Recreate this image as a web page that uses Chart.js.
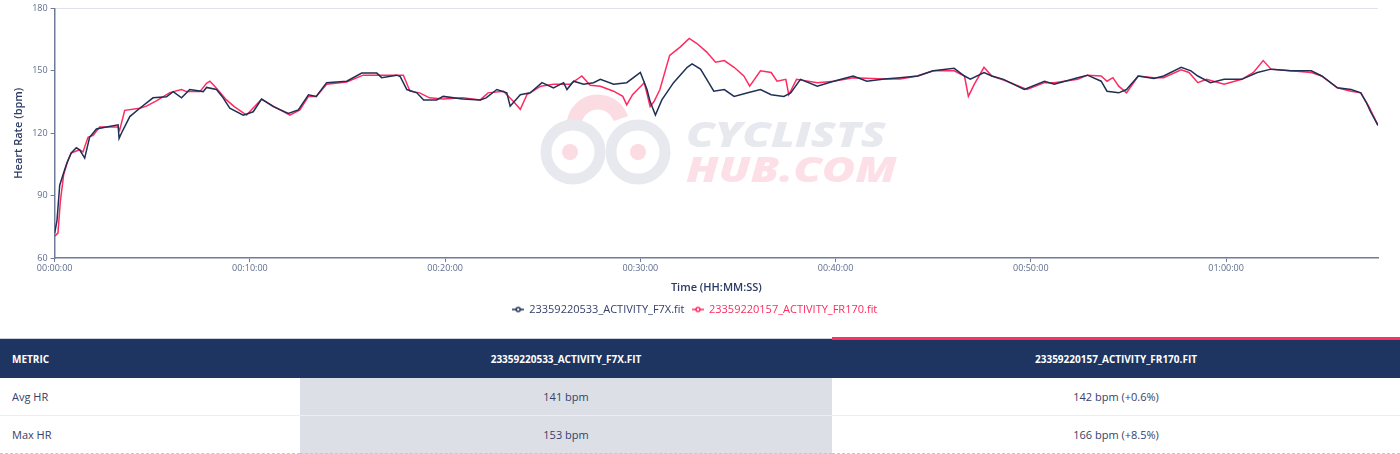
<!DOCTYPE html>
<html>
<head>
<meta charset="utf-8">
<script src="https://cdn.jsdelivr.net/npm/chart.js@4.4.1/dist/chart.umd.min.js"></script>
<style>
    html, body { margin: 0; padding: 0; background: #fff; font-family: "Open Sans", "Noto Sans", sans-serif; }
    #chart-div { position: relative; width: 1400px; height: 332px; }
    table { width: 1400px; border-collapse: collapse; margin-top: 5px; }
    th { background: #1e3461; color: #fff; font-size: 10px; font-weight: 700; height: 39px; padding: 0 12px; text-transform: uppercase; border-top: 1px solid #c9cfdb; }
    th.metric { text-align: left; width: 276px; }
    th.second { border-top: 3px solid #ff2e63; height: 37px; }
    td { color: #34426a; font-size: 11px; height: 37px; padding: 0 12px; text-align: center; border-bottom: 1px solid #eceef2; }
    td.metric { text-align: left; }
    td.first { background: #dcdfe6; }
    tr:last-child td { border-bottom: 1px dashed #c4c8d0; }
</style>
</head>
<body>
<div id="chart-div"><canvas id="chart"></canvas></div>
<table>
    <tr><th class="metric">Metric</th><th style="width:508px">23359220533_ACTIVITY_F7X.fit</th><th class="second">23359220157_ACTIVITY_FR170.fit</th></tr>
    <tr><td class="metric">Avg HR</td><td class="first">141 bpm</td><td>142 bpm (+0.6%)</td></tr>
    <tr><td class="metric">Max HR</td><td class="first">153 bpm</td><td>166 bpm (+8.5%)</td></tr>
</table>
<script>
// elapsed time in minutes, heart rate in bpm
const f7xLabel = '23359220533_ACTIVITY_F7X.fit';
const f7xTimes = [0, 0.12, 0.26, 0.43, 0.6, 0.85, 1.11, 1.28, 1.54, 1.79, 2.14, 2.65, 3.25, 3.3, 3.42, 3.85, 4.36, 5.04, 5.73, 6.07,
    6.5, 6.92, 7.61, 7.78, 8.29, 8.63, 8.97, 9.66, 10.17, 10.6, 11.2, 11.97, 12.48, 13, 13.4, 13.93, 14.96, 15.73, 16.5, 16.75,
    17.52, 17.7, 18.04, 18.55, 18.9, 19.57, 19.9, 20.9, 21.8, 22.1, 22.65, 23.16, 23.33, 23.85, 24.36, 24.96, 25.55, 26.07, 26.24, 26.58,
    27.09, 27.6, 27.95, 28.63, 29.3, 30, 30.34, 30.5, 30.77, 31.1, 31.7, 32.4, 32.65, 33.08, 33.4, 33.76, 34.3, 34.8, 35.5, 36.15,
    36.7, 37.35, 37.7, 38.2, 39.06, 39.9, 40.9, 41.6, 42.5, 43.3, 44.2, 45, 46.07, 46.6, 46.9, 47.6, 48, 48.6, 49.66, 50.7,
    51.2, 52.4, 52.9, 53.6, 53.9, 54.5, 54.9, 55.5, 56.3, 56.8, 57.7, 58.2, 58.55, 59.2, 59.9, 60.8, 61.6, 62.3, 63.3, 64.36,
    64.9, 65.7, 66.4, 66.9, 67.2, 67.4, 67.78];
const f7xHr = [72, 78, 95, 100, 105, 110.5, 113, 112, 108, 118, 122, 123, 124, 117.5, 120, 128, 132, 137, 137.5, 140,
    137, 141, 140, 142, 141, 137, 132, 128.7, 130.3, 136.4, 132.8, 129.5, 131.2, 138.5, 137.7, 144.3, 145, 148.9, 148.9, 146.7,
    147.9, 147.2, 141, 139.4, 136, 136, 137.7, 136.4, 136, 137, 141, 139.4, 133, 138.5, 139.4, 144.3, 141.8, 144.3, 141, 145,
    143.5, 144.3, 145.9, 143.5, 144.3, 149.2, 141, 135.2, 128.7, 136, 144.3, 151.7, 153.3, 150.8, 145.9, 140.2, 141, 137.7, 139.4, 141,
    138.5, 137.7, 139.4, 145.9, 142.6, 145, 147.5, 145, 146, 146.7, 147.5, 150, 151.2, 147.5, 146, 149.2, 147.5, 145.9, 141, 145,
    143.5, 146.7, 147.9, 145, 140.2, 139.4, 141, 147.5, 146.3, 147.5, 151.7, 150, 147.5, 144.3, 145.9, 145.9, 149.2, 150.8, 150, 150,
    147.5, 141.8, 141, 139.4, 134.4, 130.3, 123.8];

const fr170Label = '23359220157_ACTIVITY_FR170.fit';
const fr170Times = [0, 0.17, 0.29, 0.46, 0.68, 0.85, 1.28, 1.45, 1.71, 1.97, 2.31, 3.25, 3.33, 3.59, 4.36, 4.7, 5.21, 5.9, 6.5, 6.75,
    7.44, 7.78, 7.95, 8.21, 8.8, 9.2, 9.83, 10.6, 11.2, 12.05, 12.56, 13, 13.4, 13.93, 14.96, 15.8, 16.67, 17.86, 18.2, 18.7,
    19.2, 19.9, 20.9, 21.8, 22.2, 22.99, 23.5, 23.85, 24.19, 24.9, 25.55, 26.4, 27, 27.43, 27.95, 28.63, 29.1, 29.3, 29.6, 30.2,
    30.5, 30.7, 31, 31.5, 32.05, 32.5, 32.9, 33.4, 33.85, 34.3, 34.8, 35.3, 35.6, 36.15, 36.7, 37, 37.45, 37.6, 38, 39.06,
    39.9, 40.9, 42.5, 43.3, 44.2, 45, 46.07, 46.6, 46.8, 47.1, 47.6, 48, 48.6, 49.8, 50.7, 51.2, 52.4, 52.9, 53.6, 53.9,
    54.2, 54.5, 54.9, 55.5, 56.3, 56.8, 57.7, 58.1, 58.55, 59, 59.9, 60.8, 61.4, 61.9, 62.3, 63.3, 64.36, 64.9, 65.7, 66.4,
    66.9, 67.3, 67.78];
const fr170Hr = [70.5, 72, 87, 100, 107, 110.5, 112, 111, 118, 119, 123, 123, 121.5, 131, 132, 133, 135.5, 139.5, 141, 140,
    140, 144, 145, 142.5, 136, 132.8, 128.7, 136.4, 133, 128.7, 131.2, 137.7, 137.7, 143.5, 144.6, 147.9, 147.9, 147.9, 140.2, 139.4,
    137, 136.4, 137, 136, 139.4, 140.2, 135.2, 131.5, 138.5, 142.6, 143.5, 143.5, 147.5, 143, 142.6, 140.2, 137.7, 133.6, 138.5, 144.3,
    132.8, 135.2, 141, 157.4, 161.5, 165.6, 163.1, 159, 154.1, 154.9, 151.7, 147.5, 142.6, 150, 149.2, 145, 145.9, 138.5, 145.9, 144.3,
    145, 146.7, 146, 146, 147.5, 150, 150, 147.5, 137.7, 143.5, 151.7, 147.5, 145.6, 141, 144.3, 144.3, 145.9, 147.9, 147.5, 145,
    146.7, 142.6, 139.4, 147.5, 146.7, 146.7, 150.5, 149.2, 144.3, 145.9, 143.5, 145.9, 149.2, 154.9, 150.8, 150, 149.2, 147.5, 141.8, 140.2,
    139.4, 133, 123.8];

const hrTicks = [60, 90, 120, 150, 180];
const timeTicks = [0, 10, 20, 30, 40, 50, 60];

const f7xColor = '#1f2f55';
const fr170Color = '#ff2a60';
const axisColor = '#6f7c99';
const tickColor = '#5d6b8c';

const toPoints = function(times, values){
    return times.map((t, i) => ({x: t, y: values[i]}));
}

const formatTime = function(minutes){
    let total = Math.round(minutes * 60);
    let h = Math.floor(total / 3600);
    let m = Math.floor((total % 3600) / 60);
    let s = total % 60;
    return [h, m, s].map(v => String(v).padStart(2, '0')).join(':');
}

// little "-o-" icon used in the legend
const legendIcon = function(color){
    let c = document.createElement('canvas');
    c.width = 12;
    c.height = 8;
    let ctx = c.getContext('2d');
    ctx.strokeStyle = color;
    ctx.lineWidth = 1.5;
    ctx.beginPath();
    ctx.moveTo(0, 4);
    ctx.lineTo(12, 4);
    ctx.stroke();
    ctx.beginPath();
    ctx.arc(6, 4, 2, 0, Math.PI * 2);
    ctx.fillStyle = '#fff';
    ctx.fill();
    ctx.stroke();
    return c;
}

// faint site logo behind the lines
const watermark = {
    id: 'watermark',
    beforeDatasetsDraw(chart){
        const ctx = chart.ctx;
        ctx.save();
        // rider head
        ctx.strokeStyle = '#fbdce3';
        ctx.lineWidth = 15;
        ctx.beginPath();
        ctx.arc(598, 126, 24, Math.PI * 1.0, Math.PI * 1.9);
        ctx.stroke();
        // two wheels
        ctx.strokeStyle = '#e7e9ef';
        ctx.lineWidth = 11;
        ctx.beginPath();
        ctx.arc(573, 152, 27, 0, Math.PI * 2);
        ctx.stroke();
        ctx.beginPath();
        ctx.arc(638, 152, 27, 0, Math.PI * 2);
        ctx.stroke();
        ctx.fillStyle = '#fbdce3';
        ctx.beginPath();
        ctx.arc(570, 152, 8, 0, Math.PI * 2);
        ctx.fill();
        ctx.beginPath();
        ctx.arc(638, 152, 8, 0, Math.PI * 2);
        ctx.fill();
        ctx.translate(686, 0);
        ctx.scale(1.3, 1);
        ctx.font = 'italic 900 35px "Open Sans", sans-serif';
        ctx.textBaseline = 'alphabetic';
        ctx.fillStyle = '#e7e9ef';
        ctx.fillText('CYCLISTS', 0, 147);
        ctx.fillStyle = '#fde0e7';
        ctx.fillText('HUB.COM', 0, 182);
        ctx.restore();
    }
};

const data = {
    datasets: [
        {
            label: f7xLabel,
            data: toPoints(f7xTimes, f7xHr),
            borderColor: f7xColor,
            backgroundColor: f7xColor,
            borderWidth: 1.5,
            pointRadius: 0,
            tension: 0
        },
        {
            label: fr170Label,
            data: toPoints(fr170Times, fr170Hr),
            borderColor: fr170Color,
            backgroundColor: fr170Color,
            borderWidth: 1.5,
            pointRadius: 0,
            tension: 0
        }
    ]
}

const config = {
    type: 'line',
    data,
    options: {
        responsive: true,
        maintainAspectRatio: false,
        animation: false,
        layout: { padding: { left: 12, right: 22, top: 6, bottom: 7 } },
        plugins: {
            legend: {
                position: 'bottom',
                labels: {
                    usePointStyle: true,
                    font: { family: 'Open Sans', size: 11 },
                    padding: 8,
                    generateLabels: function(chart){
                        return chart.data.datasets.map((ds, i) => ({
                            text: ds.label,
                            fontColor: i === 0 ? '#34426a' : fr170Color,
                            pointStyle: legendIcon(ds.borderColor),
                            strokeStyle: ds.borderColor,
                            fillStyle: ds.borderColor,
                            lineWidth: 0,
                            datasetIndex: i
                        }));
                    }
                }
            },
            tooltip: { enabled: false }
        },
        scales: {
            x: {
                type: 'linear',
                min: 0,
                max: f7xTimes[f7xTimes.length - 1],
                afterBuildTicks: axis => { axis.ticks = timeTicks.map(v => ({value: v})); },
                ticks: {
                    color: tickColor,
                    font: { family: 'Open Sans', size: 9 },
                    maxRotation: 0,
                    padding: 1,
                    callback: v => formatTime(v)
                },
                grid: { drawOnChartArea: false, tickLength: 4, tickColor: axisColor },
                border: { color: axisColor, width: 1.5 },
                title: {
                    display: true,
                    text: 'Time (HH:MM:SS)',
                    color: '#2b3a63',
                    font: { family: 'Open Sans', size: 11, weight: '600' },
                    padding: { top: 6, bottom: 2 }
                }
            },
            y: {
                min: hrTicks[0],
                max: hrTicks[hrTicks.length - 1],
                afterBuildTicks: axis => { axis.ticks = hrTicks.map(v => ({value: v})); },
                ticks: {
                    color: tickColor,
                    font: { family: 'Open Sans', size: 9 }
                },
                grid: {
                    color: c => c.tick && c.tick.value === 180 ? '#dfe2e8' : 'rgba(0,0,0,0)',
                    tickColor: axisColor,
                    tickLength: 4
                },
                border: { color: axisColor, width: 1.5 },
                title: {
                    display: true,
                    text: 'Heart Rate (bpm)',
                    color: '#2b3a63',
                    font: { family: 'Open Sans', size: 11, weight: '600' },
                    padding: { top: 0, bottom: 4 }
                }
            }
        }
    },
    plugins: [watermark]
};

var chart = new Chart(document.getElementById('chart'), config);
</script>
</body>
</html>
